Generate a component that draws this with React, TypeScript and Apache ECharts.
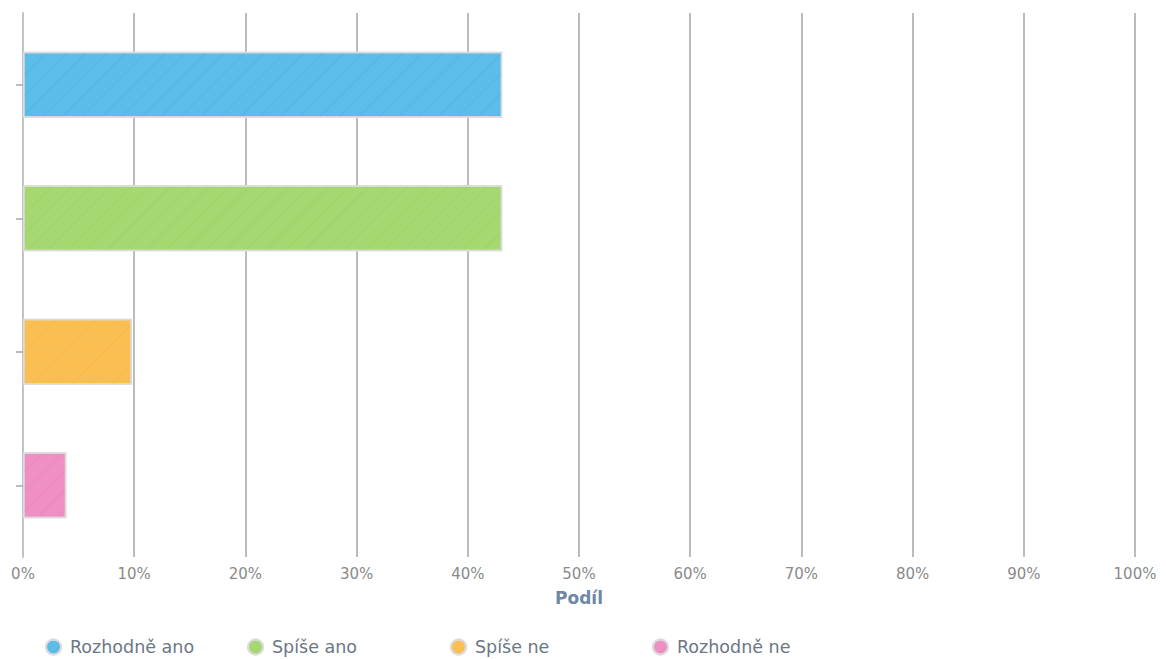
import React, { useEffect, useRef } from "react";
import * as echarts from "echarts";

const categories = ["Rozhodně ano", "Spíše ano", "Spíše ne", "Rozhodně ne"];
const values = [43.1, 43.1, 9.8, 3.9];
const colors = ["#5dbde9", "#a5d871", "#fabf52", "#ee90c3"];
const decalColors = ["rgba(30,150,215,0.18)", "rgba(120,190,70,0.18)", "rgba(240,170,40,0.2)", "rgba(220,100,165,0.18)"];
const legendLefts = [45, 247, 450, 652];

export default function App() {
  const ref = useRef<HTMLDivElement>(null);
  useEffect(() => {
    document.body.style.margin = "0";
    const chart = echarts.init(ref.current!, null, { renderer: "svg" });
    const series = categories.map((name, i) => ({
      name,
      type: "bar",
      stack: "all",
      xAxisIndex: 1,
      yAxisIndex: 1,
      barWidth: "49.5%",
      data: categories.map((_, j) => (j === i ? values[i] : null)),
      itemStyle: {
        color: colors[i],
        borderColor: "#dcdcdc",
        borderWidth: 1.5,
        decal: {
          symbol: "rect",
          symbolSize: 1,
          color: decalColors[i],
          dashArrayX: [[1, 0]],
          dashArrayY: [1, 13],
          rotation: -Math.PI / 4,
        },
      },
      emphasis: { disabled: true },
    }));
    const legends = categories.map((name, i) => ({
      top: 638,
      left: legendLefts[i],
      icon: "circle",
      itemWidth: 15,
      itemHeight: 15,
      data: [name],
      padding: 0,
      textStyle: { fontFamily: "DejaVu Sans", fontSize: 17.5, color: "#6b7785", padding: [0, 0, 0, 4] },
    }));
    chart.setOption({
      animation: false,
      color: colors,
      grid: [
        { left: 23, right: 31, top: 13, bottom: 102, containLabel: false },
        { left: 23, right: 31, top: 18, bottom: 107, containLabel: false },
      ],
      xAxis: [
        {
          type: "value",
          gridIndex: 0,
          min: 0,
          max: 100,
          interval: 10,
          name: "Podíl",
          nameLocation: "middle",
          nameGap: 32,
          nameTextStyle: { fontFamily: "DejaVu Sans", fontWeight: "bold", fontSize: 17, color: "#6f88a4", verticalAlign: "top" },
          axisLine: { show: false },
          axisTick: { show: false },
          axisLabel: { formatter: "{value}%", fontFamily: "DejaVu Sans", fontSize: 15, color: "#8a8a8a", margin: 9 },
          splitLine: { show: true, lineStyle: { color: "#bcbcbc", width: 2 } },
        },
        {
          type: "value",
          gridIndex: 1,
          min: 0,
          max: 100,
          interval: 10,
          show: false,
        },
      ],
      yAxis: [
        {
          type: "value",
          gridIndex: 0,
          min: 0,
          max: 1,
          axisLine: { show: true, lineStyle: { color: "#bfc3ca", width: 2 } },
          axisTick: { show: false },
          axisLabel: { show: false },
          splitLine: { show: false },
        },
        {
          type: "category",
          gridIndex: 1,
          data: categories,
          inverse: true,
          axisLine: { show: false },
          axisTick: { show: true, alignWithLabel: true, length: 7, lineStyle: { color: "#a6a6a6", width: 1.5 } },
          axisLabel: { show: false },
          splitLine: { show: false },
        },
      ],
      legend: legends,
      series,
    });
    return () => chart.dispose();
  }, []);
  return <div ref={ref} style={{ width: 1166, height: 659 }} />;
}
